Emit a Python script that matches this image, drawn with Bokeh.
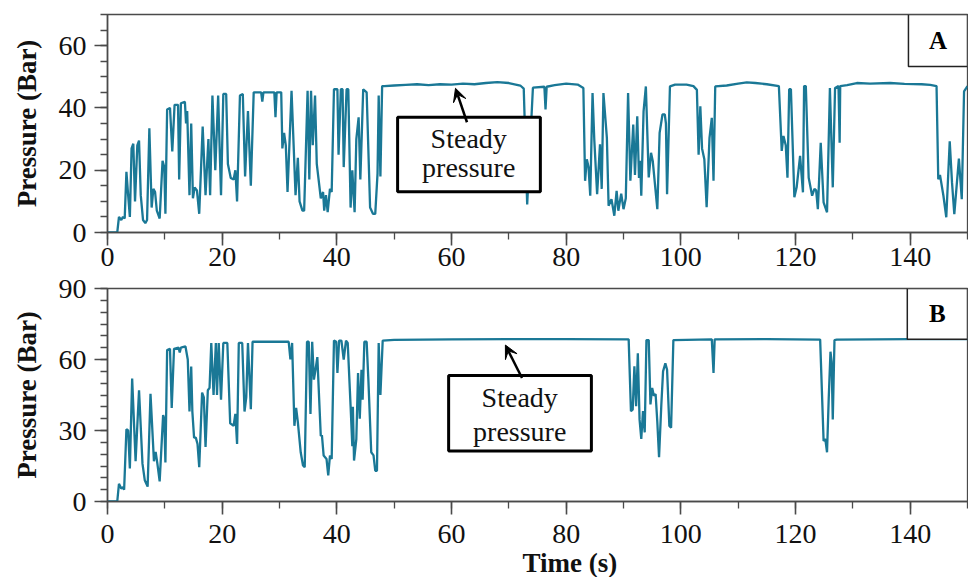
from bokeh.plotting import figure
from bokeh.layouts import column
from bokeh.models import (SingleIntervalTicker, Range1d, BoxAnnotation, Label,
                          Arrow, VeeHead, Title)
from bokeh.embed import file_html
from bokeh.resources import INLINE

# ---------------- data ----------------
time_a = [0, 1.7, 2.0, 2.4, 2.7, 3.0, 3.3, 3.6, 3.9, 4.2, 4.5, 4.8, 5.2, 5.5, 5.8,
          6.2, 6.6, 6.9, 7.3, 7.7, 8.0, 8.3, 8.6, 9.1, 9.6, 9.9, 10.1, 10.4, 10.9,
          11.3, 11.7, 12.3, 12.5, 12.8, 13.5, 13.7, 13.9, 14.3, 14.6, 14.9, 15.2,
          15.6, 16.0, 16.6, 17.1, 17.6, 17.9, 18.3, 18.8, 19.3, 19.8, 20.2, 20.7,
          21.0, 21.5, 22.0, 22.3, 22.6, 23.1, 23.6, 24.0, 24.5, 25.0, 25.5, 26.8,
          27.0, 27.2, 29.1, 29.3, 29.5, 30.3, 30.5, 30.8, 31.1, 31.4, 32.1, 32.8,
          33.2, 33.5, 34.0, 34.3, 34.9, 35.2, 35.5, 35.8, 36.2, 36.5, 37.2, 37.6,
          37.8, 38.1, 38.4, 38.8, 39.1, 39.5, 40.1, 40.3, 40.7, 41.0, 41.2, 41.7,
          42.0, 42.4, 42.7, 42.9, 43.1, 43.4, 43.8, 44.1, 44.6, 45.2, 45.8, 46.3,
          46.7, 47.1, 47.3, 47.6, 47.9, 48.3, 50, 52, 54, 56, 58, 60, 62, 64, 66,
          68, 70, 72, 72.6, 73.2, 74.2, 76.2, 76.4, 76.6, 78, 80, 82, 83.0, 83.3,
          83.6, 83.9, 84.2, 84.6, 84.9, 85.4, 85.9, 86.2, 86.5, 87.1, 87.4, 87.9,
          88.4, 88.8, 89.1, 89.6, 90.0, 90.4, 90.8, 91.2, 91.7, 92.0, 92.4, 92.7,
          92.9, 93.1, 93.5, 93.9, 94.4, 94.8, 95.1, 95.9, 96.3, 96.8, 97.2, 97.4,
          97.6, 98.1, 99, 101, 102.2, 102.8, 103.1, 103.4, 103.7, 104.1, 104.5,
          105.0, 105.4, 105.7, 106.0, 108, 110, 111.5, 113, 115, 117.1, 117.6,
          117.9, 118.3, 118.6, 118.9, 119.2, 119.8, 120.2, 120.8, 121.3, 121.5,
          121.8, 122.3, 122.9, 123.3, 123.6, 123.9, 124.4, 124.9, 125.5, 126.0,
          126.5, 126.9, 127.5, 127.7, 127.8, 129, 130.7, 133, 136.5, 139, 142,
          143.5, 144.6, 144.9, 145.2, 145.8, 146.3, 146.9, 147.3, 147.7, 148.5,
          149.0, 149.4, 150]
pressure_a = [0, 0, 5, 4, 5, 4.5, 19.5, 12, 5, 27, 28.5, 10, 28, 29.5, 12,
              4, 3, 4, 33.5, 8, 14, 13, 7, 4.5, 23, 21, 6, 39.5, 40,
              26, 41, 41, 17, 41.5, 42, 35, 39, 12, 35, 11, 14.5,
              13.5, 6, 34, 12, 30, 12, 44, 20, 44, 12, 44.5, 44.5,
              22, 17.5, 17, 20, 10, 44, 44.5, 18, 39, 15, 45, 45,
              42, 45, 45, 37, 45, 45, 27, 32, 28, 13, 45.5, 12,
              24, 10, 7, 7, 45.5, 17, 45.5, 28, 44, 22, 11, 13,
              7, 12, 6.5, 14, 13, 46, 46, 25, 46, 46, 21, 46,
              46, 8, 20, 13, 6.5, 30, 37, 17, 46, 45, 8, 6,
              6, 19, 44, 18, 47, 47.0, 47.2, 47.4, 47.6, 47.3, 47.6, 47.5, 47.8, 47.6, 48.0,
              48.3, 48.0, 47.2, 46.2, 9, 46.5, 46.8, 39.5, 46.8, 47.3, 47.8, 47.5, 46.4, 16.6,
              23.5, 21, 11.8, 44.8, 30, 12.3, 28.3, 14, 44.8, 30.4, 8.6, 10.7,
              5.4, 13.4, 7, 12.5, 7.5, 11, 44.8, 16.6, 34.7, 18.5, 37.3, 17.5,
              23, 11.8, 38.9, 46.9, 17.7, 25.6, 23, 7.5, 32, 37.9, 37.9, 35,
              12.3, 46.9, 47.5, 47.5, 47, 45.8, 25, 40.5, 27, 23.5, 8.1,
              30.4, 36.8, 16.6, 46.9, 47.2, 47.8, 48.2, 48.0, 47.6, 47.0, 26.2,
              31, 28, 17.6, 46, 46, 11.3, 14.5, 24.6, 12.9, 47,
              47, 17.6, 11.8, 14, 13.5, 7.5, 28.8, 9.7, 6.5, 46.4,
              14.5, 46.4, 47, 28.8, 47, 47.3, 48, 47.8, 48, 47.7, 47.6,
              47.4, 47, 17.1, 18.5, 11.8, 4.9, 29.3, 16, 5.9, 23.7,
              10.7, 45.3, 47]

time_b = [0, 1.7, 2.0, 2.4, 2.7, 2.9, 3.3, 3.6, 3.9, 4.3, 4.9, 5.5, 6.1, 6.5, 7.0,
          7.5, 8.1, 8.4, 8.7, 9.1, 9.7, 9.9, 10.1, 10.4, 10.9, 11.2, 11.6, 12.4,
          12.6, 12.8, 13.6, 14.0, 14.3, 14.6, 14.8, 15.1, 15.4, 15.7, 16.0, 16.5,
          16.8, 17.1, 17.5, 17.8, 18.1, 18.5, 18.9, 19.1, 19.4, 19.8, 20.2, 20.9,
          21.4, 22.0, 22.3, 22.6, 22.9, 23.5, 23.9, 24.2, 24.5, 25.0, 25.3, 31.6,
          31.9, 32.2, 32.6, 32.9, 33.2, 33.7, 34.1, 34.4, 34.8, 35.1, 35.4, 35.7,
          36.0, 36.3, 36.6, 37.2, 37.4, 37.7, 38.2, 38.5, 38.8, 39.1, 39.5, 39.9,
          40.1, 40.4, 40.8, 41.2, 41.6, 41.9, 42.4, 42.7, 42.8, 43.0, 43.4, 43.7,
          44.0, 44.3, 44.5, 44.8, 45.2, 45.5, 46.0, 46.4, 46.7, 47.0, 47.3, 47.6,
          48.0, 50, 60, 70, 80, 90.9, 91.3, 91.6, 91.9, 92.2, 92.5, 92.8, 93.1,
          93.4, 93.7, 94.0, 94.4, 94.7, 95.0, 95.3, 95.6, 95.9, 96.2, 96.6, 96.9,
          97.3, 97.6, 98.0, 98.3, 98.7, 105.4, 105.7, 105.9, 115, 124.3, 124.9,
          125.2, 125.5, 125.8, 126.1, 126.3, 126.5, 126.8, 127.2, 140, 150]
pressure_b = [0, 0, 7.5, 5.5, 6, 5, 30.5, 30, 14, 52, 17, 47, 16, 9, 6.3,
              45.5, 17, 21, 16, 8.5, 36.5, 35, 16.5, 64, 64.5, 39.5, 64.5, 65,
              63, 65, 65.5, 60, 38, 57, 38, 27, 27, 24.3, 14.5, 46,
              44, 23, 47, 48, 67, 45, 67, 45, 67, 43, 67, 67,
              33, 32, 37, 24.3, 67, 67, 38, 44, 67, 39, 67.5, 67.5,
              60, 67, 32, 39.6, 33.5, 20.8, 15.2, 14.5, 67.5, 67.5, 37, 67.5,
              51.5, 56, 61, 27.7, 28, 19.4, 18, 11, 19.4, 18, 68, 67.5,
              54.3, 68, 68, 60, 68, 67, 40.3, 23.4, 40, 17.3, 26.4, 54.3,
              35, 55.7, 43, 67.5, 67.5, 51.5, 20.8, 19.5, 13, 13, 67, 45,
              68, 68.3, 68.5, 68.6, 68.6, 68.5, 38.2, 38.8, 57.1, 40.3, 62.6, 34.7, 26.4,
              38.2, 29.2, 68.2, 68.2, 41, 48, 44.7, 45.4, 33.5, 18.7, 41, 55,
              58.4, 55.7, 31.9, 31.2, 68.2, 68.5, 54.3, 68.5, 68.6, 68.4, 25.6,
              26.4, 20.8, 44, 63.3, 59, 34.7, 68.2, 68.4, 68.6, 68.6]

panel_labels = ["A", "B"]
note_lines = ["Steady", "pressure"]
x_title = "Time (s)"
y_title = "Pressure (Bar)"

# ---------------- styling ----------------
LINE = "#1a7896"
AX = "#4a4a4a"
TXT = "#111111"
FONT = "Liberation Serif"


def make_fig(height, top_border, bottom_border, ymax, yint, yminor, xstandoff):
    p = figure(width=968, height=height, x_range=Range1d(0, 150),
               y_range=Range1d(0, ymax), output_backend="svg",
               toolbar_location=None, min_border_left=107, min_border_right=1,
               min_border_top=top_border, min_border_bottom=bottom_border)
    p.grid.visible = False
    p.background_fill_color = "white"
    p.border_fill_color = "white"
    p.outline_line_color = AX
    p.outline_line_width = 1.3
    p.xaxis.ticker = SingleIntervalTicker(interval=20, num_minor_ticks=2)
    p.yaxis.ticker = SingleIntervalTicker(interval=yint, num_minor_ticks=yminor)
    for ax in (p.xaxis[0], p.yaxis[0]):
        ax.axis_line_color = AX
        ax.axis_line_width = 1.6
        ax.major_tick_line_color = AX
        ax.minor_tick_line_color = AX
        ax.major_tick_line_width = 1.6
        ax.minor_tick_line_width = 1.3
        ax.major_tick_in = 0
        ax.major_tick_out = 13
        ax.minor_tick_in = 0
        ax.minor_tick_out = 7
        ax.major_label_text_font = FONT
        ax.major_label_text_font_size = "28px"
        ax.major_label_text_color = TXT
    p.xaxis.major_label_standoff = xstandoff
    p.yaxis.major_label_standoff = 8
    p.yaxis.axis_label = y_title
    p.yaxis.axis_label_text_font = FONT
    p.yaxis.axis_label_text_font_size = "27px"
    p.yaxis.axis_label_text_font_style = "bold"
    p.yaxis.axis_label_text_color = TXT
    p.yaxis.axis_label_standoff = 14
    return p


def add_note(p, box, arrow, text_x, text_y):
    p.add_layout(BoxAnnotation(left=box[0], right=box[1], bottom=box[2], top=box[3],
                               fill_color="white", fill_alpha=1.0,
                               line_color="black", line_alpha=1.0, line_width=3))
    for line, ty in zip(note_lines, text_y):
        p.add_layout(Label(x=text_x, y=ty, text=line, text_font=FONT,
                           text_font_size="28px", text_color=TXT,
                           text_align="center", text_baseline="middle"))
    p.add_layout(Arrow(end=VeeHead(size=13, fill_color="black", line_color="black"),
                       x_start=arrow[0], y_start=arrow[1], x_end=arrow[2], y_end=arrow[3],
                       line_color="black", line_width=2.5))


def add_tag(p, box, label, ty):
    p.add_layout(BoxAnnotation(left=box[0], right=box[1], bottom=box[2], top=box[3],
                               fill_color="white", fill_alpha=1.0,
                               line_color="#222222", line_alpha=1.0, line_width=1.5))
    p.add_layout(Label(x=(box[0] + box[1]) / 2, y=ty, text=label, text_font=FONT,
                       text_font_size="25px", text_font_style="bold", text_color="black",
                       text_align="center", text_baseline="middle"))


# ---------------- panel A ----------------
pa = make_fig(279, 14, 47, 70, 20, 4, 2)
pa.line(time_a, pressure_a, line_color=LINE, line_width=2.3)
add_note(pa, (50.6, 75.5, 13.1, 37.0), (62.7, 35.4, 60.7, 46.3), 63.0, (30.3, 20.8))
add_tag(pa, (139.7, 150, 53.3, 70), panel_labels[0], 61.5)

# ---------------- panel B (its transparent top edge overlaps A by 12 px,
# so that the "90" tick label has room inside its own canvas) ----------------
pb = make_fig(310, 21, 74, 90, 30, 6, 10)
pb.border_fill_alpha = 0.0
pb.styles = {"margin-top": "-12px"}
pb.line(time_b, pressure_b, line_color=LINE, line_width=2.3)
add_note(pb, (59.5, 84.4, 21.3, 53.2), (72.3, 52.2, 69.4, 66.1), 71.9, (44.0, 29.7))
add_tag(pb, (139.5, 150, 68.6, 90), panel_labels[1], 79.3)
pb.add_layout(Title(text=x_title, align="left", offset=415, text_font=FONT,
                    text_font_size="27px", text_font_style="bold", text_color=TXT,
                    standoff=0), "below")

layout = column(pa, pb, spacing=0)
open("out.html", "w").write(file_html(layout, INLINE))
